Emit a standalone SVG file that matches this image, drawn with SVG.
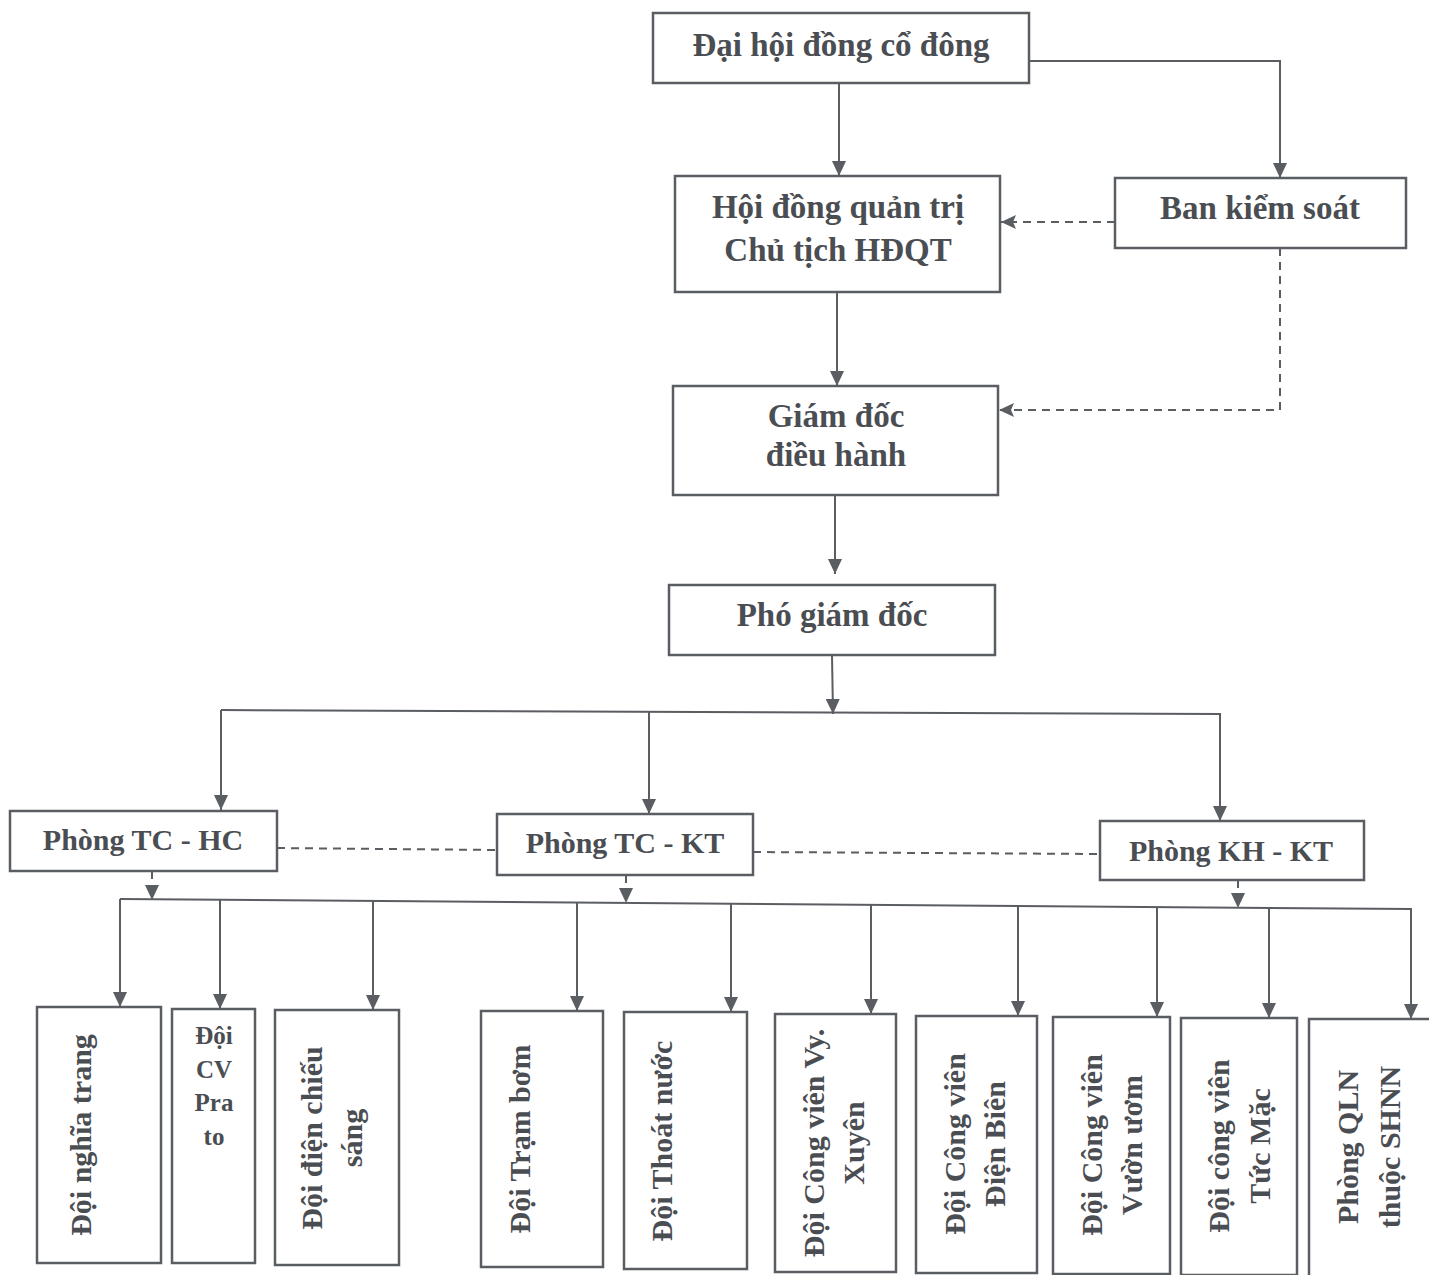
<svg xmlns="http://www.w3.org/2000/svg" width="1429" height="1275" viewBox="0 0 1429 1275">
<style>
.box{fill:#ffffff;stroke:#5a5d61;stroke-width:2.5}
.t{font-family:"Liberation Serif","Times New Roman",serif;font-weight:bold;fill:#4a4d52;text-anchor:middle}
.t33{font-size:33px}
.t30{font-size:30px}
.t25{font-size:25px}
.ln{fill:none;stroke:#5a5d61;stroke-width:2}
.dash{fill:none;stroke:#5a5d61;stroke-width:2;stroke-dasharray:8 6}
</style>
<defs>
<marker id="arr" viewBox="0 0 15 14" refX="15" refY="7" markerWidth="15" markerHeight="14" markerUnits="userSpaceOnUse" orient="auto">
<path d="M0,0 L15,7 L0,14 z" fill="#5a5d61"/>
</marker>
<marker id="arrn" viewBox="0 0 15 14" refX="15" refY="7" markerWidth="15" markerHeight="14" markerUnits="userSpaceOnUse" orient="auto">
<path d="M0,0 L15,7 L0,14 L3,7 z" fill="#5a5d61"/>
</marker>
</defs>
<rect width="1429" height="1275" fill="#ffffff"/>

<g id="connectors">
<path class="ln" d="M839,83 L839,176" marker-end="url(#arr)"/>
<path class="ln" d="M1029,61 L1280,61 L1280,178" marker-end="url(#arr)"/>
<path class="dash" d="M1115,222 L1001,222" marker-end="url(#arrn)"/>
<path class="dash" d="M1280,248 L1280,410 L999,410" marker-end="url(#arrn)"/>
<path class="ln" d="M837,292 L837,386" marker-end="url(#arr)"/>
<path class="ln" d="M835,495 L835,574" marker-end="url(#arr)"/>
<path class="ln" d="M832,655 L833,714" marker-end="url(#arr)"/>
<path class="ln" d="M221,710 L1220,714 L1220,821" marker-end="url(#arr)"/>
<path class="ln" d="M221,710 L221,810" marker-end="url(#arr)"/>
<path class="ln" d="M649,712 L649,814" marker-end="url(#arr)"/>
<path class="dash" d="M277,848 L497,850"/>
<path class="dash" d="M753,852 L1100,854"/>
<path class="dash" d="M152,871 L152,900" marker-end="url(#arr)"/>
<path class="dash" d="M626,875 L626,903" marker-end="url(#arr)"/>
<path class="dash" d="M1238,880 L1238,908" marker-end="url(#arr)"/>
<path class="ln" d="M120,899 L1411,909 L1411,1019" marker-end="url(#arr)"/>
<path class="ln" d="M120,899 L120,1007" marker-end="url(#arr)"/>
<path class="ln" d="M220,900 L220,1009" marker-end="url(#arr)"/>
<path class="ln" d="M373,901 L373,1010" marker-end="url(#arr)"/>
<path class="ln" d="M577,902.5 L577,1011" marker-end="url(#arr)"/>
<path class="ln" d="M731,903.7 L731,1012" marker-end="url(#arr)"/>
<path class="ln" d="M871,904.8 L871,1014" marker-end="url(#arr)"/>
<path class="ln" d="M1018,906 L1018,1016" marker-end="url(#arr)"/>
<path class="ln" d="M1157,907 L1157,1017" marker-end="url(#arr)"/>
<path class="ln" d="M1269,908 L1269,1018" marker-end="url(#arr)"/>
</g>

<g id="dhdcd">
<rect class="box" x="653" y="13" width="376" height="70"/>
<text class="t t33" x="841" y="56">Đại hội đồng cổ đông</text>
</g>
<g id="hdqt">
<rect class="box" x="675" y="176" width="325" height="116"/>
<text class="t t33" x="838" y="218">Hội đồng quản trị</text>
<text class="t t33" x="838" y="261">Chủ tịch HĐQT</text>
</g>
<g id="bks">
<rect class="box" x="1115" y="178" width="291" height="70"/>
<text class="t t33" x="1260" y="219">Ban kiểm soát</text>
</g>
<g id="gddh">
<rect class="box" x="673" y="386" width="325" height="109"/>
<text class="t t33" x="836" y="427">Giám đốc</text>
<text class="t t33" x="836" y="466">điều hành</text>
</g>
<g id="pgd">
<rect class="box" x="669" y="585" width="326" height="70"/>
<text class="t t33" x="832" y="626">Phó giám đốc</text>
</g>
<g id="tchc">
<rect class="box" x="10" y="811" width="267" height="60"/>
<text class="t t30" x="143" y="850">Phòng TC - HC</text>
</g>
<g id="tckt">
<rect class="box" x="497" y="814" width="256" height="61"/>
<text class="t t30" x="625" y="853">Phòng TC - KT</text>
</g>
<g id="khkt">
<rect class="box" x="1100" y="821" width="264" height="59"/>
<text class="t t30" x="1231" y="861">Phòng KH - KT</text>
</g>

<g id="nghiatrang">
<rect class="box" x="37" y="1007" width="124" height="256"/>
<text class="t t30" transform="translate(91,1135) rotate(-90)">Đội nghĩa trang</text>
</g>
<g id="prato">
<rect class="box" x="172" y="1009" width="83" height="254"/>
<text class="t t25" x="214" y="1044">Đội</text>
<text class="t t25" x="214" y="1078">CV</text>
<text class="t t25" x="214" y="1111">Pra</text>
<text class="t t25" x="214" y="1145">to</text>
</g>
<g id="chieusang">
<rect class="box" x="275" y="1010" width="124" height="255"/>
<text class="t t30" transform="translate(322,1138) rotate(-90)">Đội điện chiếu<tspan x="0" dy="40">sáng</tspan></text>
</g>
<g id="trambom">
<rect class="box" x="481" y="1011" width="122" height="256"/>
<text class="t t30" transform="translate(530,1139) rotate(-90)">Đội Trạm bơm</text>
</g>
<g id="thoatnuoc">
<rect class="box" x="624" y="1012" width="123" height="257"/>
<text class="t t30" transform="translate(672,1141) rotate(-90)">Đội Thoát nước</text>
</g>
<g id="vyxuyen">
<rect class="box" x="775" y="1014" width="121" height="258"/>
<text class="t t30" transform="translate(824,1143) rotate(-90)">Đội Công viên Vy.<tspan x="0" dy="40">Xuyên</tspan></text>
</g>
<g id="dienbien">
<rect class="box" x="916" y="1016" width="121" height="257"/>
<text class="t t30" transform="translate(965,1144) rotate(-90)">Đội Công viên<tspan x="0" dy="40">Điện Biên</tspan></text>
</g>
<g id="vuonuom">
<rect class="box" x="1053" y="1017" width="117" height="257"/>
<text class="t t30" transform="translate(1102,1145) rotate(-90)">Đội Công viên<tspan x="0" dy="40">Vườn ươm</tspan></text>
</g>
<g id="tucmac">
<rect class="box" x="1181" y="1018" width="116" height="257"/>
<text class="t t30" transform="translate(1229,1146) rotate(-90)">Đội công viên<tspan x="0" dy="41">Tức Mặc</tspan></text>
</g>
<g id="qln">
<rect class="box" x="1309" y="1019" width="130" height="262"/>
<text class="t t30" transform="translate(1358,1147) rotate(-90)">Phòng QLN<tspan x="0" dy="42">thuộc SHNN</tspan></text>
</g>
</svg>
